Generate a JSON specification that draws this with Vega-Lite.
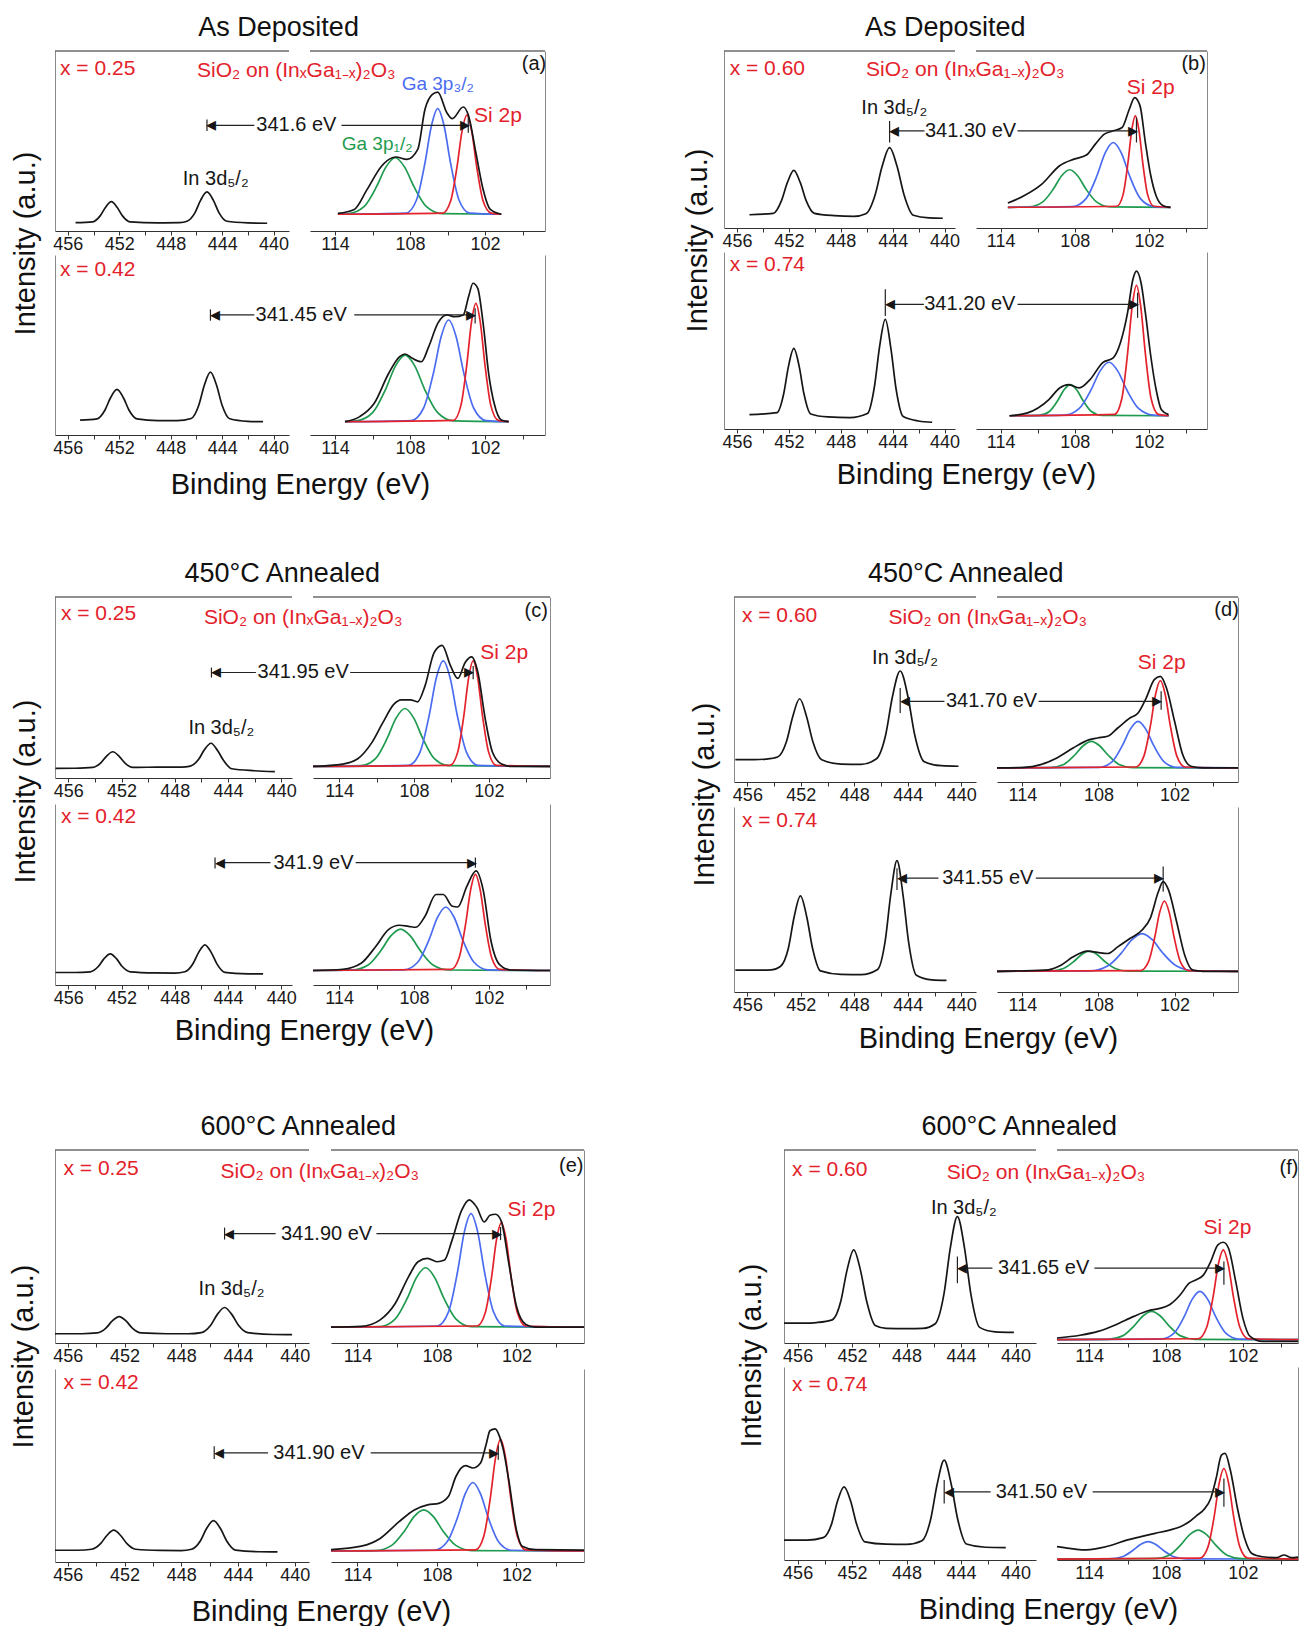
{
"$schema":"https://vega.github.io/schema/vega-lite/v6.json",
"padding":{"left":9,"top":14,"right":0,"bottom":0},
"spacing":60,
"vconcat":[
{"spacing":61,"vconcat":[
{"hconcat":[
{"title":"As Deposited","columns":2,"spacing":{"row":24,"column":21},"bounds":"flush","concat":[
{"width":234,"height":180,"data":{"name":"a0i"},"encoding":{"x":{"field":"e","type":"quantitative","scale":{"domain":[457,438.8],"nice":false,"zero":false},"axis":{"title":null}},"y":{"field":"v","type":"quantitative","scale":{"domain":[0,1],"nice":false},"axis":{"title":"Intensity (a.u.)","titleX":-30,"titleY":192,"titleBaseline":"middle"}}},"layer":[{"mark":{"type":"line","style":"ln","color":"#161616"},"transform":[{"filter":"!datum.t&&!datum.f"}]},{"mark":"rule","transform":[{"filter":"datum.f"}],"encoding":{"x2":{"field":"f"},"y2":{"field":"w"}}},{"mark":"text","transform":[{"filter":"datum.t"}],"encoding":{"text":{"field":"t"},"color":{"field":"k","type":"nominal"},"size":{"field":"k","type":"nominal","scale":{"type":"ordinal","domain":["b","g","k","r"],"range":[19,19,20,21]}}}}]},
{"width":235,"height":180,"data":{"name":"a0g"},"encoding":{"x":{"field":"e","type":"quantitative","scale":{"domain":[116,97.2],"nice":false,"zero":false},"axis":{"title":null,"values":[114,111,108,105,102,99]}},"y":{"field":"v","type":"quantitative","scale":{"domain":[0,1],"nice":false},"axis":{"orient":"right","title":null}}},"layer":[{"mark":{"type":"line","style":"ln"},"transform":[{"filter":"datum.c"}],"encoding":{"color":{"field":"c","type":"nominal"}}},{"mark":"rule","transform":[{"filter":"datum.f"}],"encoding":{"x2":{"field":"f"},"y2":{"field":"w"}}},{"mark":"text","transform":[{"filter":"datum.t"}],"encoding":{"text":{"field":"t"},"color":{"field":"k","type":"nominal"},"size":{"field":"k","type":"nominal","scale":{"type":"ordinal","domain":["b","g","k","r"],"range":[19,19,20,21]}}}}]},
{"width":234,"height":180,"data":{"name":"a1i"},"encoding":{"x":{"field":"e","type":"quantitative","scale":{"domain":[457,438.8],"nice":false,"zero":false},"axis":{"title":"Binding Energy (eV)","titleX":245,"titleY":49,"titleBaseline":"middle"}},"y":{"field":"v","type":"quantitative","scale":{"domain":[0,1],"nice":false},"axis":{"title":null}}},"layer":[{"mark":{"type":"line","style":"ln","color":"#161616"},"transform":[{"filter":"!datum.t&&!datum.f"}]},{"mark":"rule","transform":[{"filter":"datum.f"}],"encoding":{"x2":{"field":"f"},"y2":{"field":"w"}}},{"mark":"text","transform":[{"filter":"datum.t"}],"encoding":{"text":{"field":"t"},"color":{"field":"k","type":"nominal"},"size":{"field":"k","type":"nominal","scale":{"type":"ordinal","domain":["b","g","k","r"],"range":[19,19,20,21]}}}}]},
{"width":235,"height":180,"data":{"name":"a1g"},"encoding":{"x":{"field":"e","type":"quantitative","scale":{"domain":[116,97.2],"nice":false,"zero":false},"axis":{"title":null,"values":[114,111,108,105,102,99]}},"y":{"field":"v","type":"quantitative","scale":{"domain":[0,1],"nice":false},"axis":{"orient":"right","title":null}}},"layer":[{"mark":{"type":"line","style":"ln"},"transform":[{"filter":"datum.c"}],"encoding":{"color":{"field":"c","type":"nominal"}}},{"mark":"rule","transform":[{"filter":"datum.f"}],"encoding":{"x2":{"field":"f"},"y2":{"field":"w"}}},{"mark":"text","transform":[{"filter":"datum.t"}],"encoding":{"text":{"field":"t"},"color":{"field":"k","type":"nominal"},"size":{"field":"k","type":"nominal","scale":{"type":"ordinal","domain":["b","g","k","r"],"range":[19,19,20,21]}}}}]}
]},
{"title":"As Deposited","columns":2,"spacing":{"row":24,"column":21},"bounds":"flush","concat":[
{"width":231,"height":177,"data":{"name":"b0i"},"encoding":{"x":{"field":"e","type":"quantitative","scale":{"domain":[457,439.2],"nice":false,"zero":false},"axis":{"title":null}},"y":{"field":"v","type":"quantitative","scale":{"domain":[0,1],"nice":false},"axis":{"title":"Intensity (a.u.)","titleX":-27,"titleY":189,"titleBaseline":"middle"}}},"layer":[{"mark":{"type":"line","style":"ln","color":"#161616"},"transform":[{"filter":"!datum.t&&!datum.f"}]},{"mark":"rule","transform":[{"filter":"datum.f"}],"encoding":{"x2":{"field":"f"},"y2":{"field":"w"}}},{"mark":"text","transform":[{"filter":"datum.t"}],"encoding":{"text":{"field":"t"},"color":{"field":"k","type":"nominal"},"size":{"field":"k","type":"nominal","scale":{"type":"ordinal","domain":["b","g","k","r"],"range":[19,19,20,21]}}}}]},
{"width":231,"height":177,"data":{"name":"b0g"},"encoding":{"x":{"field":"e","type":"quantitative","scale":{"domain":[116,97.3],"nice":false,"zero":false},"axis":{"title":null,"values":[114,111,108,105,102,99]}},"y":{"field":"v","type":"quantitative","scale":{"domain":[0,1],"nice":false},"axis":{"orient":"right","title":null}}},"layer":[{"mark":{"type":"line","style":"ln"},"transform":[{"filter":"datum.c"}],"encoding":{"color":{"field":"c","type":"nominal"}}},{"mark":"rule","transform":[{"filter":"datum.f"}],"encoding":{"x2":{"field":"f"},"y2":{"field":"w"}}},{"mark":"text","transform":[{"filter":"datum.t"}],"encoding":{"text":{"field":"t"},"color":{"field":"k","type":"nominal"},"size":{"field":"k","type":"nominal","scale":{"type":"ordinal","domain":["b","g","k","r"],"range":[19,19,20,21]}}}}]},
{"width":231,"height":177,"data":{"name":"b1i"},"encoding":{"x":{"field":"e","type":"quantitative","scale":{"domain":[457,439.2],"nice":false,"zero":false},"axis":{"title":"Binding Energy (eV)","titleX":242,"titleY":45,"titleBaseline":"middle"}},"y":{"field":"v","type":"quantitative","scale":{"domain":[0,1],"nice":false},"axis":{"title":null}}},"layer":[{"mark":{"type":"line","style":"ln","color":"#161616"},"transform":[{"filter":"!datum.t&&!datum.f"}]},{"mark":"rule","transform":[{"filter":"datum.f"}],"encoding":{"x2":{"field":"f"},"y2":{"field":"w"}}},{"mark":"text","transform":[{"filter":"datum.t"}],"encoding":{"text":{"field":"t"},"color":{"field":"k","type":"nominal"},"size":{"field":"k","type":"nominal","scale":{"type":"ordinal","domain":["b","g","k","r"],"range":[19,19,20,21]}}}}]},
{"width":231,"height":177,"data":{"name":"b1g"},"encoding":{"x":{"field":"e","type":"quantitative","scale":{"domain":[116,97.3],"nice":false,"zero":false},"axis":{"title":null,"values":[114,111,108,105,102,99]}},"y":{"field":"v","type":"quantitative","scale":{"domain":[0,1],"nice":false},"axis":{"orient":"right","title":null}}},"layer":[{"mark":{"type":"line","style":"ln"},"transform":[{"filter":"datum.c"}],"encoding":{"color":{"field":"c","type":"nominal"}}},{"mark":"rule","transform":[{"filter":"datum.f"}],"encoding":{"x2":{"field":"f"},"y2":{"field":"w"}}},{"mark":"text","transform":[{"filter":"datum.t"}],"encoding":{"text":{"field":"t"},"color":{"field":"k","type":"nominal"},"size":{"field":"k","type":"nominal","scale":{"type":"ordinal","domain":["b","g","k","r"],"range":[19,19,20,21]}}}}]}
]}
],"spacing":136},
{"hconcat":[
{"title":"450°C Annealed","columns":2,"spacing":{"row":26,"column":21},"bounds":"flush","concat":[
{"width":237,"height":181,"data":{"name":"c0i"},"encoding":{"x":{"field":"e","type":"quantitative","scale":{"domain":[457,439.2],"nice":false,"zero":false},"axis":{"title":null}},"y":{"field":"v","type":"quantitative","scale":{"domain":[0,1],"nice":false},"axis":{"title":"Intensity (a.u.)","titleX":-30,"titleY":194,"titleBaseline":"middle"}}},"layer":[{"mark":{"type":"line","style":"ln","color":"#161616"},"transform":[{"filter":"!datum.t&&!datum.f"}]},{"mark":"rule","transform":[{"filter":"datum.f"}],"encoding":{"x2":{"field":"f"},"y2":{"field":"w"}}},{"mark":"text","transform":[{"filter":"datum.t"}],"encoding":{"text":{"field":"t"},"color":{"field":"k","type":"nominal"},"size":{"field":"k","type":"nominal","scale":{"type":"ordinal","domain":["b","g","k","r"],"range":[19,19,20,21]}}}}]},
{"width":237,"height":181,"data":{"name":"c0g"},"encoding":{"x":{"field":"e","type":"quantitative","scale":{"domain":[116.1,97.1],"nice":false,"zero":false},"axis":{"title":null,"values":[114,111,108,105,102,99]}},"y":{"field":"v","type":"quantitative","scale":{"domain":[0,1],"nice":false},"axis":{"orient":"right","title":null}}},"layer":[{"mark":{"type":"line","style":"ln"},"transform":[{"filter":"datum.c"}],"encoding":{"color":{"field":"c","type":"nominal"}}},{"mark":"rule","transform":[{"filter":"datum.f"}],"encoding":{"x2":{"field":"f"},"y2":{"field":"w"}}},{"mark":"text","transform":[{"filter":"datum.t"}],"encoding":{"text":{"field":"t"},"color":{"field":"k","type":"nominal"},"size":{"field":"k","type":"nominal","scale":{"type":"ordinal","domain":["b","g","k","r"],"range":[19,19,20,21]}}}}]},
{"width":237,"height":181,"data":{"name":"c1i"},"encoding":{"x":{"field":"e","type":"quantitative","scale":{"domain":[457,439.2],"nice":false,"zero":false},"axis":{"title":"Binding Energy (eV)","titleX":249,"titleY":45,"titleBaseline":"middle"}},"y":{"field":"v","type":"quantitative","scale":{"domain":[0,1],"nice":false},"axis":{"title":null}}},"layer":[{"mark":{"type":"line","style":"ln","color":"#161616"},"transform":[{"filter":"!datum.t&&!datum.f"}]},{"mark":"rule","transform":[{"filter":"datum.f"}],"encoding":{"x2":{"field":"f"},"y2":{"field":"w"}}},{"mark":"text","transform":[{"filter":"datum.t"}],"encoding":{"text":{"field":"t"},"color":{"field":"k","type":"nominal"},"size":{"field":"k","type":"nominal","scale":{"type":"ordinal","domain":["b","g","k","r"],"range":[19,19,20,21]}}}}]},
{"width":237,"height":181,"data":{"name":"c1g"},"encoding":{"x":{"field":"e","type":"quantitative","scale":{"domain":[116.1,97.1],"nice":false,"zero":false},"axis":{"title":null,"values":[114,111,108,105,102,99]}},"y":{"field":"v","type":"quantitative","scale":{"domain":[0,1],"nice":false},"axis":{"orient":"right","title":null}}},"layer":[{"mark":{"type":"line","style":"ln"},"transform":[{"filter":"datum.c"}],"encoding":{"color":{"field":"c","type":"nominal"}}},{"mark":"rule","transform":[{"filter":"datum.f"}],"encoding":{"x2":{"field":"f"},"y2":{"field":"w"}}},{"mark":"text","transform":[{"filter":"datum.t"}],"encoding":{"text":{"field":"t"},"color":{"field":"k","type":"nominal"},"size":{"field":"k","type":"nominal","scale":{"type":"ordinal","domain":["b","g","k","r"],"range":[19,19,20,21]}}}}]}
]},
{"title":"450°C Annealed","columns":2,"spacing":{"row":25,"column":21},"bounds":"flush","concat":[
{"width":242,"height":185,"data":{"name":"d0i"},"encoding":{"x":{"field":"e","type":"quantitative","scale":{"domain":[457,438.9],"nice":false,"zero":false},"axis":{"title":null}},"y":{"field":"v","type":"quantitative","scale":{"domain":[0,1],"nice":false},"axis":{"title":"Intensity (a.u.)","titleX":-30,"titleY":197,"titleBaseline":"middle"}}},"layer":[{"mark":{"type":"line","style":"ln","color":"#161616"},"transform":[{"filter":"!datum.t&&!datum.f"}]},{"mark":"rule","transform":[{"filter":"datum.f"}],"encoding":{"x2":{"field":"f"},"y2":{"field":"w"}}},{"mark":"text","transform":[{"filter":"datum.t"}],"encoding":{"text":{"field":"t"},"color":{"field":"k","type":"nominal"},"size":{"field":"k","type":"nominal","scale":{"type":"ordinal","domain":["b","g","k","r"],"range":[19,19,20,21]}}}}]},
{"width":241,"height":185,"data":{"name":"d0g"},"encoding":{"x":{"field":"e","type":"quantitative","scale":{"domain":[116,97],"nice":false,"zero":false},"axis":{"title":null,"values":[114,111,108,105,102,99]}},"y":{"field":"v","type":"quantitative","scale":{"domain":[0,1],"nice":false},"axis":{"orient":"right","title":null}}},"layer":[{"mark":{"type":"line","style":"ln"},"transform":[{"filter":"datum.c"}],"encoding":{"color":{"field":"c","type":"nominal"}}},{"mark":"rule","transform":[{"filter":"datum.f"}],"encoding":{"x2":{"field":"f"},"y2":{"field":"w"}}},{"mark":"text","transform":[{"filter":"datum.t"}],"encoding":{"text":{"field":"t"},"color":{"field":"k","type":"nominal"},"size":{"field":"k","type":"nominal","scale":{"type":"ordinal","domain":["b","g","k","r"],"range":[19,19,20,21]}}}}]},
{"width":242,"height":185,"data":{"name":"d1i"},"encoding":{"x":{"field":"e","type":"quantitative","scale":{"domain":[457,438.9],"nice":false,"zero":false},"axis":{"title":"Binding Energy (eV)","titleX":254,"titleY":46,"titleBaseline":"middle"}},"y":{"field":"v","type":"quantitative","scale":{"domain":[0,1],"nice":false},"axis":{"title":null}}},"layer":[{"mark":{"type":"line","style":"ln","color":"#161616"},"transform":[{"filter":"!datum.t&&!datum.f"}]},{"mark":"rule","transform":[{"filter":"datum.f"}],"encoding":{"x2":{"field":"f"},"y2":{"field":"w"}}},{"mark":"text","transform":[{"filter":"datum.t"}],"encoding":{"text":{"field":"t"},"color":{"field":"k","type":"nominal"},"size":{"field":"k","type":"nominal","scale":{"type":"ordinal","domain":["b","g","k","r"],"range":[19,19,20,21]}}}}]},
{"width":241,"height":185,"data":{"name":"d1g"},"encoding":{"x":{"field":"e","type":"quantitative","scale":{"domain":[116,97],"nice":false,"zero":false},"axis":{"title":null,"values":[114,111,108,105,102,99]}},"y":{"field":"v","type":"quantitative","scale":{"domain":[0,1],"nice":false},"axis":{"orient":"right","title":null}}},"layer":[{"mark":{"type":"line","style":"ln"},"transform":[{"filter":"datum.c"}],"encoding":{"color":{"field":"c","type":"nominal"}}},{"mark":"rule","transform":[{"filter":"datum.f"}],"encoding":{"x2":{"field":"f"},"y2":{"field":"w"}}},{"mark":"text","transform":[{"filter":"datum.t"}],"encoding":{"text":{"field":"t"},"color":{"field":"k","type":"nominal"},"size":{"field":"k","type":"nominal","scale":{"type":"ordinal","domain":["b","g","k","r"],"range":[19,19,20,21]}}}}]}
]}
],"spacing":136}
]},
{"hconcat":[
{"title":"600°C Annealed","columns":2,"spacing":{"row":26,"column":22},"bounds":"flush","concat":[
{"width":254,"height":193,"data":{"name":"e0i"},"encoding":{"x":{"field":"e","type":"quantitative","scale":{"domain":[456.9,439],"nice":false,"zero":false},"axis":{"title":null}},"y":{"field":"v","type":"quantitative","scale":{"domain":[0,1],"nice":false},"axis":{"title":"Intensity (a.u.)","titleX":-32,"titleY":206,"titleBaseline":"middle"}}},"layer":[{"mark":{"type":"line","style":"ln","color":"#161616"},"transform":[{"filter":"!datum.t&&!datum.f"}]},{"mark":"rule","transform":[{"filter":"datum.f"}],"encoding":{"x2":{"field":"f"},"y2":{"field":"w"}}},{"mark":"text","transform":[{"filter":"datum.t"}],"encoding":{"text":{"field":"t"},"color":{"field":"k","type":"nominal"},"size":{"field":"k","type":"nominal","scale":{"type":"ordinal","domain":["b","g","k","r"],"range":[19,19,20,21]}}}}]},
{"width":253,"height":193,"data":{"name":"e0g"},"encoding":{"x":{"field":"e","type":"quantitative","scale":{"domain":[116,96.9],"nice":false,"zero":false},"axis":{"title":null,"values":[114,111,108,105,102,99]}},"y":{"field":"v","type":"quantitative","scale":{"domain":[0,1],"nice":false},"axis":{"orient":"right","title":null}}},"layer":[{"mark":{"type":"line","style":"ln"},"transform":[{"filter":"datum.c"}],"encoding":{"color":{"field":"c","type":"nominal"}}},{"mark":"rule","transform":[{"filter":"datum.f"}],"encoding":{"x2":{"field":"f"},"y2":{"field":"w"}}},{"mark":"text","transform":[{"filter":"datum.t"}],"encoding":{"text":{"field":"t"},"color":{"field":"k","type":"nominal"},"size":{"field":"k","type":"nominal","scale":{"type":"ordinal","domain":["b","g","k","r"],"range":[19,19,20,21]}}}}]},
{"width":254,"height":193,"data":{"name":"e1i"},"encoding":{"x":{"field":"e","type":"quantitative","scale":{"domain":[456.9,439],"nice":false,"zero":false},"axis":{"title":"Binding Energy (eV)","titleX":266,"titleY":49,"titleBaseline":"middle"}},"y":{"field":"v","type":"quantitative","scale":{"domain":[0,1],"nice":false},"axis":{"title":null}}},"layer":[{"mark":{"type":"line","style":"ln","color":"#161616"},"transform":[{"filter":"!datum.t&&!datum.f"}]},{"mark":"rule","transform":[{"filter":"datum.f"}],"encoding":{"x2":{"field":"f"},"y2":{"field":"w"}}},{"mark":"text","transform":[{"filter":"datum.t"}],"encoding":{"text":{"field":"t"},"color":{"field":"k","type":"nominal"},"size":{"field":"k","type":"nominal","scale":{"type":"ordinal","domain":["b","g","k","r"],"range":[19,19,20,21]}}}}]},
{"width":253,"height":193,"data":{"name":"e1g"},"encoding":{"x":{"field":"e","type":"quantitative","scale":{"domain":[116,96.9],"nice":false,"zero":false},"axis":{"title":null,"values":[114,111,108,105,102,99]}},"y":{"field":"v","type":"quantitative","scale":{"domain":[0,1],"nice":false},"axis":{"orient":"right","title":null}}},"layer":[{"mark":{"type":"line","style":"ln"},"transform":[{"filter":"datum.c"}],"encoding":{"color":{"field":"c","type":"nominal"}}},{"mark":"rule","transform":[{"filter":"datum.f"}],"encoding":{"x2":{"field":"f"},"y2":{"field":"w"}}},{"mark":"text","transform":[{"filter":"datum.t"}],"encoding":{"text":{"field":"t"},"color":{"field":"k","type":"nominal"},"size":{"field":"k","type":"nominal","scale":{"type":"ordinal","domain":["b","g","k","r"],"range":[19,19,20,21]}}}}]}
]},
{"title":"600°C Annealed","columns":2,"spacing":{"row":24,"column":21},"bounds":"flush","concat":[
{"width":252,"height":193,"data":{"name":"f0i"},"encoding":{"x":{"field":"e","type":"quantitative","scale":{"domain":[457,438.5],"nice":false,"zero":false},"axis":{"title":null}},"y":{"field":"v","type":"quantitative","scale":{"domain":[0,1],"nice":false},"axis":{"title":"Intensity (a.u.)","titleX":-33,"titleY":205,"titleBaseline":"middle"}}},"layer":[{"mark":{"type":"line","style":"ln","color":"#161616"},"transform":[{"filter":"!datum.t&&!datum.f"}]},{"mark":"rule","transform":[{"filter":"datum.f"}],"encoding":{"x2":{"field":"f"},"y2":{"field":"w"}}},{"mark":"text","transform":[{"filter":"datum.t"}],"encoding":{"text":{"field":"t"},"color":{"field":"k","type":"nominal"},"size":{"field":"k","type":"nominal","scale":{"type":"ordinal","domain":["b","g","k","r"],"range":[19,19,20,21]}}}}]},
{"width":241,"height":193,"data":{"name":"f0g"},"encoding":{"x":{"field":"e","type":"quantitative","scale":{"domain":[116.5,97.7],"nice":false,"zero":false},"axis":{"title":null,"values":[114,111,108,105,102,99]}},"y":{"field":"v","type":"quantitative","scale":{"domain":[0,1],"nice":false},"axis":{"orient":"right","title":null}}},"layer":[{"mark":{"type":"line","style":"ln"},"transform":[{"filter":"datum.c"}],"encoding":{"color":{"field":"c","type":"nominal"}}},{"mark":"rule","transform":[{"filter":"datum.f"}],"encoding":{"x2":{"field":"f"},"y2":{"field":"w"}}},{"mark":"text","transform":[{"filter":"datum.t"}],"encoding":{"text":{"field":"t"},"color":{"field":"k","type":"nominal"},"size":{"field":"k","type":"nominal","scale":{"type":"ordinal","domain":["b","g","k","r"],"range":[19,19,20,21]}}}}]},
{"width":252,"height":193,"data":{"name":"f1i"},"encoding":{"x":{"field":"e","type":"quantitative","scale":{"domain":[457,438.5],"nice":false,"zero":false},"axis":{"title":"Binding Energy (eV)","titleX":264,"titleY":49,"titleBaseline":"middle"}},"y":{"field":"v","type":"quantitative","scale":{"domain":[0,1],"nice":false},"axis":{"title":null}}},"layer":[{"mark":{"type":"line","style":"ln","color":"#161616"},"transform":[{"filter":"!datum.t&&!datum.f"}]},{"mark":"rule","transform":[{"filter":"datum.f"}],"encoding":{"x2":{"field":"f"},"y2":{"field":"w"}}},{"mark":"text","transform":[{"filter":"datum.t"}],"encoding":{"text":{"field":"t"},"color":{"field":"k","type":"nominal"},"size":{"field":"k","type":"nominal","scale":{"type":"ordinal","domain":["b","g","k","r"],"range":[19,19,20,21]}}}}]},
{"width":241,"height":193,"data":{"name":"f1g"},"encoding":{"x":{"field":"e","type":"quantitative","scale":{"domain":[116.5,97.7],"nice":false,"zero":false},"axis":{"title":null,"values":[114,111,108,105,102,99]}},"y":{"field":"v","type":"quantitative","scale":{"domain":[0,1],"nice":false},"axis":{"orient":"right","title":null}}},"layer":[{"mark":{"type":"line","style":"ln"},"transform":[{"filter":"datum.c"}],"encoding":{"color":{"field":"c","type":"nominal"}}},{"mark":"rule","transform":[{"filter":"datum.f"}],"encoding":{"x2":{"field":"f"},"y2":{"field":"w"}}},{"mark":"text","transform":[{"filter":"datum.t"}],"encoding":{"text":{"field":"t"},"color":{"field":"k","type":"nominal"},"size":{"field":"k","type":"nominal","scale":{"type":"ordinal","domain":["b","g","k","r"],"range":[19,19,20,21]}}}}]}
]}
],"spacing":149}
],
"datasets":{
"a0i":[{"e":455.4,"v":0.046},{"e":454.07,"v":0.051},{"e":453.49,"v":0.084},{"e":453.08,"v":0.131},{"e":452.62,"v":0.163},{"e":452.16,"v":0.131},{"e":451.75,"v":0.084},{"e":451.17,"v":0.051},{"e":449,"v":0.045},{"e":447.3,"v":0.046},{"e":446.73,"v":0.054},{"e":446.11,"v":0.102},{"e":445.68,"v":0.17},{"e":445.18,"v":0.217},{"e":444.68,"v":0.17},{"e":444.25,"v":0.102},{"e":443.63,"v":0.054},{"e":442,"v":0.045},{"e":440.5,"v":0.043},
{"t":"x = 0.25","k":"r","e":453.68,"v":0.898},{"t":"SiO₂ on (InₓGa₁₋ₓ)₂O₃","k":"r","e":438.23,"v":0.889},{"t":"In 3d₅/₂","k":"k","e":444.5,"v":0.287},{"t":"341.6 eV","k":"k","e":438.23,"v":0.587},{"t":"◂","k":"k","e":444.83,"v":0.587},
{"e":445.18,"f":445.18,"v":0.62,"w":0.556},{"e":445.0,"f":441.5,"v":0.587,"w":0.587},{"e":457,"f":438.8,"v":1,"w":1}],
"a0g":[{"c":"g","e":113.77,"v":0.093},{"c":"g","e":112.93,"v":0.096},{"c":"g","e":111.68,"v":0.135},{"c":"g","e":110.68,"v":0.246},{"c":"g","e":109.93,"v":0.355},{"c":"g","e":109.18,"v":0.407},{"c":"g","e":108.43,"v":0.355},{"c":"g","e":107.68,"v":0.246},{"c":"g","e":106.68,"v":0.135},{"c":"g","e":105.43,"v":0.096},{"c":"g","e":100.7,"v":0.093},
{"c":"b","e":113.77,"v":0.093},{"c":"b","e":108.33,"v":0.099},{"c":"b","e":107.48,"v":0.172},{"c":"b","e":106.8,"v":0.379},{"c":"b","e":106.29,"v":0.583},{"c":"b","e":105.78,"v":0.68},{"c":"b","e":105.27,"v":0.583},{"c":"b","e":104.76,"v":0.379},{"c":"b","e":104.08,"v":0.172},{"c":"b","e":103.23,"v":0.099},{"c":"b","e":100.7,"v":0.093},
{"c":"r","e":113.77,"v":0.093},{"c":"r","e":105.4,"v":0.099},{"c":"r","e":104.75,"v":0.167},{"c":"r","e":104.23,"v":0.361},{"c":"r","e":103.84,"v":0.553},{"c":"r","e":103.45,"v":0.644},{"c":"r","e":103.06,"v":0.553},{"c":"r","e":102.67,"v":0.361},{"c":"r","e":102.15,"v":0.167},{"c":"r","e":101.5,"v":0.099},{"c":"r","e":100.7,"v":0.093},
{"c":"k","e":113.77,"v":0.098},{"c":"k","e":112.46,"v":0.12},{"c":"k","e":111.44,"v":0.23},{"c":"k","e":110.28,"v":0.36},{"c":"k","e":109.41,"v":0.407},{"c":"k","e":109.12,"v":0.411},{"c":"k","e":108.25,"v":0.398},{"c":"k","e":107.38,"v":0.454},{"c":"k","e":106.8,"v":0.676},{"c":"k","e":106.21,"v":0.759},{"c":"k","e":105.78,"v":0.772},{"c":"k","e":105.05,"v":0.657},{"c":"k","e":104.62,"v":0.624},{"c":"k","e":103.74,"v":0.689},{"c":"k","e":103.31,"v":0.639},{"c":"k","e":102.73,"v":0.435},{"c":"k","e":102.15,"v":0.231},{"c":"k","e":101.57,"v":0.12},{"c":"k","e":100.7,"v":0.093},
{"t":"Ga 3p₃/₂","k":"b","e":105.78,"v":0.815},{"t":"Ga 3p₁/₂","k":"g","e":110.63,"v":0.481},{"t":"Si 2p","k":"r","e":100.96,"v":0.639},{"t":"(a)","k":"k","e":98.08,"v":0.926},{"t":"▸","k":"k","e":103.64,"v":0.587},
{"e":113.48,"f":103.64,"v":0.587,"w":0.587},{"e":103.34,"f":103.34,"v":0.63,"w":0.546},{"e":116,"f":97.2,"v":1,"w":1}],
"a1i":[{"e":455.05,"v":0.083},{"e":453.73,"v":0.09},{"e":453.11,"v":0.139},{"e":452.68,"v":0.207},{"e":452.18,"v":0.254},{"e":451.68,"v":0.207},{"e":451.25,"v":0.139},{"e":450.63,"v":0.09},{"e":449,"v":0.08},{"e":447.5,"v":0.08},{"e":446.41,"v":0.092},{"e":445.81,"v":0.167},{"e":445.39,"v":0.275},{"e":444.91,"v":0.349},{"e":444.43,"v":0.275},{"e":444.01,"v":0.167},{"e":443.41,"v":0.09},{"e":442,"v":0.076},{"e":440.82,"v":0.074},
{"t":"x = 0.42","k":"r","e":453.68,"v":0.917},{"t":"341.45 eV","k":"k","e":437.85,"v":0.667},{"t":"◂","k":"k","e":444.56,"v":0.667},
{"e":444.91,"f":444.91,"v":0.698,"w":0.635},{"e":444.7,"f":441.5,"v":0.667,"w":0.667}],
"a1g":[{"c":"g","e":113.19,"v":0.074},{"c":"g","e":112.29,"v":0.078},{"c":"g","e":110.99,"v":0.124},{"c":"g","e":109.95,"v":0.254},{"c":"g","e":109.17,"v":0.383},{"c":"g","e":108.39,"v":0.444},{"c":"g","e":107.61,"v":0.383},{"c":"g","e":106.83,"v":0.254},{"c":"g","e":105.79,"v":0.124},{"c":"g","e":104.49,"v":0.078},{"c":"g","e":100.11,"v":0.074},
{"c":"b","e":113.19,"v":0.074},{"c":"b","e":107.91,"v":0.08},{"c":"b","e":106.91,"v":0.15},{"c":"b","e":106.11,"v":0.349},{"c":"b","e":105.51,"v":0.546},{"c":"b","e":104.91,"v":0.639},{"c":"b","e":104.31,"v":0.546},{"c":"b","e":103.71,"v":0.349},{"c":"b","e":102.91,"v":0.15},{"c":"b","e":101.91,"v":0.08},{"c":"b","e":100.11,"v":0.074},
{"c":"r","e":113.19,"v":0.074},{"c":"r","e":104.53,"v":0.081},{"c":"r","e":103.93,"v":0.163},{"c":"r","e":103.45,"v":0.394},{"c":"r","e":103.09,"v":0.623},{"c":"r","e":102.73,"v":0.731},{"c":"r","e":102.37,"v":0.623},{"c":"r","e":102.01,"v":0.394},{"c":"r","e":101.53,"v":0.163},{"c":"r","e":100.93,"v":0.081},{"c":"r","e":100.11,"v":0.074},
{"c":"k","e":113.19,"v":0.074},{"c":"k","e":112.02,"v":0.102},{"c":"k","e":110.86,"v":0.176},{"c":"k","e":109.7,"v":0.343},{"c":"k","e":108.83,"v":0.435},{"c":"k","e":108.39,"v":0.45},{"c":"k","e":107.81,"v":0.426},{"c":"k","e":107.09,"v":0.407},{"c":"k","e":106.5,"v":0.491},{"c":"k","e":105.78,"v":0.62},{"c":"k","e":105.05,"v":0.667},{"c":"k","e":104.41,"v":0.657},{"c":"k","e":103.74,"v":0.667},{"c":"k","e":103.31,"v":0.769},{"c":"k","e":102.96,"v":0.843},{"c":"k","e":102.58,"v":0.815},{"c":"k","e":102.15,"v":0.62},{"c":"k","e":101.71,"v":0.343},{"c":"k","e":101.27,"v":0.176},{"c":"k","e":100.69,"v":0.083},{"c":"k","e":100.11,"v":0.074},
{"t":"▸","k":"k","e":103.09,"v":0.667},
{"e":112.46,"f":103.09,"v":0.667,"w":0.667},{"e":102.79,"f":102.79,"v":0.704,"w":0.62}],
"b0i":[{"e":455.04,"v":0.075},{"e":453.2,"v":0.083},{"e":452.57,"v":0.155},{"e":452.12,"v":0.256},{"e":451.62,"v":0.326},{"e":451.12,"v":0.256},{"e":450.67,"v":0.155},{"e":450.04,"v":0.083},{"e":448.5,"v":0.07},{"e":447,"v":0.066},{"e":446.07,"v":0.081},{"e":445.34,"v":0.191},{"e":444.82,"v":0.347},{"e":444.24,"v":0.454},{"e":443.66,"v":0.347},{"e":443.14,"v":0.191},{"e":442.41,"v":0.072},{"e":441.2,"v":0.057},{"e":440.14,"v":0.055},
{"t":"x = 0.60","k":"r","e":453.66,"v":0.898},{"t":"SiO₂ on (InₓGa₁₋ₓ)₂O₃","k":"r","e":438.41,"v":0.893},{"t":"In 3d₅/₂","k":"k","e":443.88,"v":0.68},{"t":"341.30 eV","k":"k","e":438.0,"v":0.549},{"t":"◂","k":"k","e":443.9,"v":0.549},
{"e":444.24,"f":444.24,"v":0.605,"w":0.483},{"e":444.05,"f":441.55,"v":0.549,"w":0.549},{"e":457,"f":439.2,"v":1,"w":1}],
"b0g":[{"c":"g","e":113.42,"v":0.117},{"c":"g","e":111.72,"v":0.119},{"c":"g","e":110.62,"v":0.146},{"c":"g","e":109.74,"v":0.22},{"c":"g","e":109.08,"v":0.294},{"c":"g","e":108.42,"v":0.329},{"c":"g","e":107.76,"v":0.294},{"c":"g","e":107.1,"v":0.22},{"c":"g","e":106.22,"v":0.146},{"c":"g","e":105.12,"v":0.119},{"c":"g","e":100.26,"v":0.117},
{"c":"b","e":113.42,"v":0.117},{"c":"b","e":108.19,"v":0.121},{"c":"b","e":107.09,"v":0.166},{"c":"b","e":106.21,"v":0.295},{"c":"b","e":105.55,"v":0.423},{"c":"b","e":104.89,"v":0.483},{"c":"b","e":104.23,"v":0.423},{"c":"b","e":103.57,"v":0.295},{"c":"b","e":102.69,"v":0.166},{"c":"b","e":101.59,"v":0.121},{"c":"b","e":100.26,"v":0.117},
{"c":"r","e":113.42,"v":0.117},{"c":"r","e":104.6,"v":0.123},{"c":"r","e":104.1,"v":0.187},{"c":"r","e":103.7,"v":0.368},{"c":"r","e":103.4,"v":0.548},{"c":"r","e":103.1,"v":0.633},{"c":"r","e":102.8,"v":0.548},{"c":"r","e":102.5,"v":0.368},{"c":"r","e":102.1,"v":0.187},{"c":"r","e":101.6,"v":0.123},{"c":"r","e":100.26,"v":0.117},
{"c":"k","e":113.42,"v":0.141},{"c":"k","e":112.12,"v":0.182},{"c":"k","e":110.67,"v":0.248},{"c":"k","e":109.23,"v":0.352},{"c":"k","e":108.07,"v":0.389},{"c":"k","e":107.06,"v":0.412},{"c":"k","e":106.34,"v":0.474},{"c":"k","e":105.61,"v":0.53},{"c":"k","e":104.89,"v":0.549},{"c":"k","e":104.17,"v":0.568},{"c":"k","e":103.59,"v":0.671},{"c":"k","e":103.16,"v":0.737},{"c":"k","e":102.72,"v":0.69},{"c":"k","e":102.29,"v":0.483},{"c":"k","e":101.85,"v":0.295},{"c":"k","e":101.42,"v":0.182},{"c":"k","e":100.84,"v":0.126},{"c":"k","e":100.26,"v":0.117},
{"t":"Si 2p","k":"r","e":101.85,"v":0.793},{"t":"(b)","k":"k","e":98.38,"v":0.925},{"t":"▸","k":"k","e":103.31,"v":0.549},
{"e":112.64,"f":103.31,"v":0.549,"w":0.549},{"e":103.01,"f":103.01,"v":0.624,"w":0.483},{"e":116,"f":97.3,"v":1,"w":1}],
"b1i":[{"e":455.04,"v":0.081},{"e":452.92,"v":0.092},{"e":452.4,"v":0.199},{"e":452.04,"v":0.351},{"e":451.62,"v":0.455},{"e":451.2,"v":0.351},{"e":450.84,"v":0.199},{"e":450.32,"v":0.085},{"e":449,"v":0.068},{"e":447.3,"v":0.064},{"e":445.95,"v":0.087},{"e":445.4,"v":0.243},{"e":445.01,"v":0.466},{"e":444.57,"v":0.619},{"e":444.13,"v":0.45},{"e":443.74,"v":0.226},{"e":443.19,"v":0.07},{"e":442,"v":0.045},{"e":440.96,"v":0.038},
{"t":"x = 0.74","k":"r","e":453.66,"v":0.925},{"t":"341.20 eV","k":"k","e":438.06,"v":0.704},{"t":"◂","k":"k","e":444.22,"v":0.704},
{"e":444.57,"f":444.57,"v":0.789,"w":0.638},{"e":444.4,"f":441.6,"v":0.704,"w":0.704}],
"b1g":[{"c":"g","e":113.28,"v":0.075},{"c":"g","e":110.91,"v":0.077},{"c":"g","e":110.06,"v":0.099},{"c":"g","e":109.38,"v":0.161},{"c":"g","e":108.87,"v":0.222},{"c":"g","e":108.36,"v":0.251},{"c":"g","e":107.85,"v":0.222},{"c":"g","e":107.34,"v":0.161},{"c":"g","e":106.66,"v":0.099},{"c":"g","e":105.81,"v":0.077},{"c":"g","e":100.41,"v":0.075},
{"c":"b","e":113.28,"v":0.075},{"c":"b","e":108.84,"v":0.078},{"c":"b","e":107.64,"v":0.116},{"c":"b","e":106.68,"v":0.222},{"c":"b","e":105.96,"v":0.327},{"c":"b","e":105.24,"v":0.377},{"c":"b","e":104.52,"v":0.327},{"c":"b","e":103.8,"v":0.222},{"c":"b","e":102.84,"v":0.116},{"c":"b","e":101.64,"v":0.078},{"c":"b","e":100.41,"v":0.075},
{"c":"r","e":113.28,"v":0.075},{"c":"r","e":104.78,"v":0.083},{"c":"r","e":104.19,"v":0.174},{"c":"r","e":103.72,"v":0.433},{"c":"r","e":103.36,"v":0.69},{"c":"r","e":103.01,"v":0.811},{"c":"r","e":102.66,"v":0.69},{"c":"r","e":102.3,"v":0.433},{"c":"r","e":101.83,"v":0.174},{"c":"r","e":101.24,"v":0.083},{"c":"r","e":100.41,"v":0.075},
{"c":"k","e":113.28,"v":0.075},{"c":"k","e":111.83,"v":0.091},{"c":"k","e":110.1,"v":0.166},{"c":"k","e":109.23,"v":0.232},{"c":"k","e":108.51,"v":0.251},{"c":"k","e":107.64,"v":0.232},{"c":"k","e":106.77,"v":0.279},{"c":"k","e":105.76,"v":0.374},{"c":"k","e":104.89,"v":0.402},{"c":"k","e":104.31,"v":0.487},{"c":"k","e":103.73,"v":0.657},{"c":"k","e":103.3,"v":0.845},{"c":"k","e":103.01,"v":0.892},{"c":"k","e":102.64,"v":0.826},{"c":"k","e":102.29,"v":0.657},{"c":"k","e":101.85,"v":0.411},{"c":"k","e":101.42,"v":0.223},{"c":"k","e":100.99,"v":0.109},{"c":"k","e":100.41,"v":0.081},
{"t":"▸","k":"k","e":103.22,"v":0.704},
{"e":112.64,"f":103.22,"v":0.704,"w":0.704},{"e":102.92,"f":102.92,"v":0.77,"w":0.628}],
"c0i":[{"e":456.96,"v":0.053},{"e":455.5,"v":0.054},{"e":454.16,"v":0.059},{"e":453.56,"v":0.084},{"e":453.14,"v":0.12},{"e":452.66,"v":0.145},{"e":452.18,"v":0.12},{"e":451.76,"v":0.084},{"e":451.16,"v":0.059},{"e":449,"v":0.06},{"e":447.5,"v":0.06},{"e":446.83,"v":0.066},{"e":446.21,"v":0.103},{"e":445.78,"v":0.156},{"e":445.28,"v":0.192},{"e":444.78,"v":0.15},{"e":444.35,"v":0.098},{"e":443.73,"v":0.051},{"e":442,"v":0.04},{"e":440.49,"v":0.035},
{"t":"x = 0.25","k":"r","e":453.73,"v":0.904},{"t":"SiO₂ on (InₓGa₁₋ₓ)₂O₃","k":"r","e":438.36,"v":0.886},{"t":"In 3d₅/₂","k":"k","e":444.51,"v":0.274},{"t":"341.95 eV","k":"k","e":438.36,"v":0.583},{"t":"◂","k":"k","e":444.9,"v":0.583},
{"e":445.25,"f":445.25,"v":0.61,"w":0.555},{"e":445.05,"f":441.91,"v":0.583,"w":0.583},{"e":457,"f":439.2,"v":1,"w":1}],
"c0g":[{"c":"g","e":116.1,"v":0.064},{"c":"g","e":112.27,"v":0.068},{"c":"g","e":111.09,"v":0.107},{"c":"g","e":110.15,"v":0.22},{"c":"g","e":109.44,"v":0.331},{"c":"g","e":108.73,"v":0.384},{"c":"g","e":108.02,"v":0.331},{"c":"g","e":107.31,"v":0.22},{"c":"g","e":106.37,"v":0.107},{"c":"g","e":105.19,"v":0.068},{"c":"g","e":97.1,"v":0.064},
{"c":"b","e":116.1,"v":0.064},{"c":"b","e":108.45,"v":0.07},{"c":"b","e":107.52,"v":0.143},{"c":"b","e":106.78,"v":0.348},{"c":"b","e":106.22,"v":0.551},{"c":"b","e":105.66,"v":0.647},{"c":"b","e":105.1,"v":0.551},{"c":"b","e":104.54,"v":0.348},{"c":"b","e":103.8,"v":0.143},{"c":"b","e":102.87,"v":0.07},{"c":"b","e":97.1,"v":0.064},
{"c":"r","e":116.1,"v":0.064},{"c":"r","e":105.12,"v":0.07},{"c":"r","e":104.5,"v":0.143},{"c":"r","e":104.0,"v":0.348},{"c":"r","e":103.63,"v":0.551},{"c":"r","e":103.26,"v":0.647},{"c":"r","e":102.89,"v":0.551},{"c":"r","e":102.52,"v":0.348},{"c":"r","e":102.02,"v":0.143},{"c":"r","e":101.4,"v":0.07},{"c":"r","e":97.1,"v":0.064},
{"c":"k","e":116.1,"v":0.064},{"c":"k","e":113.71,"v":0.077},{"c":"k","e":112.54,"v":0.105},{"c":"k","e":111.37,"v":0.197},{"c":"k","e":110.49,"v":0.307},{"c":"k","e":109.61,"v":0.408},{"c":"k","e":109.02,"v":0.432},{"c":"k","e":108.29,"v":0.432},{"c":"k","e":107.71,"v":0.421},{"c":"k","e":107.12,"v":0.509},{"c":"k","e":106.39,"v":0.693},{"c":"k","e":105.75,"v":0.733},{"c":"k","e":105.07,"v":0.619},{"c":"k","e":104.49,"v":0.55},{"c":"k","e":103.9,"v":0.638},{"c":"k","e":103.38,"v":0.669},{"c":"k","e":102.88,"v":0.583},{"c":"k","e":102.29,"v":0.325},{"c":"k","e":101.71,"v":0.142},{"c":"k","e":100.98,"v":0.077},{"c":"k","e":100.25,"v":0.064},{"c":"k","e":97.1,"v":0.064},
{"t":"Si 2p","k":"r","e":100.77,"v":0.689},{"t":"(c)","k":"k","e":98.2,"v":0.923},{"t":"▸","k":"k","e":103.56,"v":0.583},
{"e":113.12,"f":103.56,"v":0.583,"w":0.583},{"e":103.26,"f":103.26,"v":0.619,"w":0.546},{"e":116.1,"f":97.1,"v":1,"w":1}],
"c1i":[{"e":456.96,"v":0.069},{"e":455.5,"v":0.069},{"e":454.35,"v":0.073},{"e":453.75,"v":0.102},{"e":453.33,"v":0.144},{"e":452.85,"v":0.172},{"e":452.37,"v":0.144},{"e":451.95,"v":0.102},{"e":451.35,"v":0.073},{"e":449.5,"v":0.067},{"e":448,"v":0.066},{"e":447.24,"v":0.073},{"e":446.64,"v":0.117},{"e":446.22,"v":0.179},{"e":445.74,"v":0.222},{"e":445.26,"v":0.179},{"e":444.84,"v":0.117},{"e":444.24,"v":0.07},{"e":442.5,"v":0.062},{"e":441.37,"v":0.061},
{"t":"x = 0.42","k":"r","e":453.73,"v":0.926},{"t":"341.9 eV","k":"k","e":437.59,"v":0.676},{"t":"◂","k":"k","e":444.63,"v":0.676},
{"e":444.98,"f":444.98,"v":0.704,"w":0.643},{"e":444.8,"f":440.82,"v":0.676,"w":0.676}],
"c1g":[{"c":"g","e":116.1,"v":0.08},{"c":"g","e":112.98,"v":0.083},{"c":"g","e":111.68,"v":0.111},{"c":"g","e":110.64,"v":0.192},{"c":"g","e":109.86,"v":0.271},{"c":"g","e":109.08,"v":0.309},{"c":"g","e":108.3,"v":0.271},{"c":"g","e":107.52,"v":0.192},{"c":"g","e":106.48,"v":0.111},{"c":"g","e":105.18,"v":0.083},{"c":"g","e":97.1,"v":0.08},
{"c":"b","e":116.1,"v":0.08},{"c":"b","e":108.81,"v":0.084},{"c":"b","e":107.69,"v":0.127},{"c":"b","e":106.79,"v":0.251},{"c":"b","e":106.12,"v":0.373},{"c":"b","e":105.45,"v":0.431},{"c":"b","e":104.78,"v":0.373},{"c":"b","e":104.11,"v":0.251},{"c":"b","e":103.21,"v":0.127},{"c":"b","e":102.09,"v":0.084},{"c":"b","e":97.1,"v":0.08},
{"c":"r","e":116.1,"v":0.08},{"c":"r","e":105.03,"v":0.086},{"c":"r","e":104.38,"v":0.152},{"c":"r","e":103.86,"v":0.339},{"c":"r","e":103.47,"v":0.523},{"c":"r","e":103.08,"v":0.611},{"c":"r","e":102.69,"v":0.523},{"c":"r","e":102.3,"v":0.339},{"c":"r","e":101.78,"v":0.152},{"c":"r","e":101.13,"v":0.086},{"c":"r","e":97.1,"v":0.08},
{"c":"k","e":116.1,"v":0.08},{"c":"k","e":113.71,"v":0.087},{"c":"k","e":112.24,"v":0.12},{"c":"k","e":111.07,"v":0.213},{"c":"k","e":110.05,"v":0.306},{"c":"k","e":109.17,"v":0.33},{"c":"k","e":108.44,"v":0.324},{"c":"k","e":107.85,"v":0.319},{"c":"k","e":107.12,"v":0.38},{"c":"k","e":106.24,"v":0.5},{"c":"k","e":105.66,"v":0.5},{"c":"k","e":104.93,"v":0.435},{"c":"k","e":104.49,"v":0.431},{"c":"k","e":103.76,"v":0.546},{"c":"k","e":103.03,"v":0.63},{"c":"k","e":102.44,"v":0.519},{"c":"k","e":101.85,"v":0.25},{"c":"k","e":101.12,"v":0.111},{"c":"k","e":100.25,"v":0.083},{"c":"k","e":97.1,"v":0.08},
{"t":"▸","k":"k","e":103.38,"v":0.676},
{"e":112.68,"f":103.38,"v":0.676,"w":0.676},{"e":103.08,"f":103.08,"v":0.704,"w":0.648}],
"d0i":[{"e":456.9,"v":0.121},{"e":455.5,"v":0.121},{"e":454.6,"v":0.124},{"e":453.74,"v":0.135},{"e":453.08,"v":0.217},{"e":452.62,"v":0.35},{"e":452.09,"v":0.45},{"e":451.56,"v":0.35},{"e":451.1,"v":0.217},{"e":450.44,"v":0.12},{"e":449,"v":0.097},{"e":447.5,"v":0.095},{"e":446.37,"v":0.124},{"e":445.65,"v":0.257},{"e":445.15,"v":0.461},{"e":444.57,"v":0.6},{"e":443.99,"v":0.461},{"e":443.49,"v":0.257},{"e":442.77,"v":0.11},{"e":441.5,"v":0.088},{"e":440.21,"v":0.085},
{"t":"x = 0.60","k":"r","e":453.59,"v":0.899},{"t":"SiO₂ on (InₓGa₁₋ₓ)₂O₃","k":"r","e":438.02,"v":0.886},{"t":"In 3d₅/₂","k":"k","e":444.21,"v":0.67},{"t":"341.70 eV","k":"k","e":437.74,"v":0.436},{"t":"◂","k":"k","e":444.2,"v":0.436},
{"e":444.57,"f":444.57,"v":0.508,"w":0.373},{"e":444.4,"f":441.26,"v":0.436,"w":0.436},{"e":457,"f":438.9,"v":1,"w":1}],
"d0g":[{"c":"g","e":116,"v":0.076},{"c":"g","e":111.83,"v":0.078},{"c":"g","e":110.74,"v":0.095},{"c":"g","e":109.87,"v":0.146},{"c":"g","e":109.21,"v":0.196},{"c":"g","e":108.56,"v":0.22},{"c":"g","e":107.91,"v":0.196},{"c":"g","e":107.25,"v":0.146},{"c":"g","e":106.38,"v":0.095},{"c":"g","e":105.29,"v":0.078},{"c":"g","e":97,"v":0.076},
{"c":"b","e":116,"v":0.076},{"c":"b","e":107.94,"v":0.079},{"c":"b","e":106.92,"v":0.11},{"c":"b","e":106.1,"v":0.199},{"c":"b","e":105.49,"v":0.286},{"c":"b","e":104.88,"v":0.328},{"c":"b","e":104.27,"v":0.286},{"c":"b","e":103.66,"v":0.199},{"c":"b","e":102.84,"v":0.11},{"c":"b","e":101.82,"v":0.079},{"c":"b","e":97,"v":0.076},
{"c":"r","e":116,"v":0.076},{"c":"r","e":105.07,"v":0.081},{"c":"r","e":104.42,"v":0.14},{"c":"r","e":103.9,"v":0.306},{"c":"r","e":103.51,"v":0.47},{"c":"r","e":103.12,"v":0.548},{"c":"r","e":102.73,"v":0.47},{"c":"r","e":102.34,"v":0.306},{"c":"r","e":101.82,"v":0.14},{"c":"r","e":101.17,"v":0.081},{"c":"r","e":97,"v":0.076},
{"c":"k","e":116,"v":0.076},{"c":"k","e":113.84,"v":0.079},{"c":"k","e":112.56,"v":0.094},{"c":"k","e":111.28,"v":0.13},{"c":"k","e":110.0,"v":0.184},{"c":"k","e":108.72,"v":0.229},{"c":"k","e":108.08,"v":0.238},{"c":"k","e":107.28,"v":0.247},{"c":"k","e":106.48,"v":0.292},{"c":"k","e":105.52,"v":0.346},{"c":"k","e":104.88,"v":0.373},{"c":"k","e":104.24,"v":0.454},{"c":"k","e":103.6,"v":0.553},{"c":"k","e":103.12,"v":0.571},{"c":"k","e":102.64,"v":0.508},{"c":"k","e":102.0,"v":0.328},{"c":"k","e":101.36,"v":0.148},{"c":"k","e":100.72,"v":0.085},{"c":"k","e":99.76,"v":0.076},{"c":"k","e":97,"v":0.076},
{"t":"Si 2p","k":"r","e":103.02,"v":0.643},{"t":"(d)","k":"k","e":97.9,"v":0.932},{"t":"▸","k":"k","e":103.36,"v":0.436},
{"e":112.72,"f":103.36,"v":0.436,"w":0.436},{"e":103.06,"f":103.06,"v":0.49,"w":0.391},{"e":116,"f":97,"v":1,"w":1}],
"d1i":[{"e":456.9,"v":0.118},{"e":455.2,"v":0.118},{"e":454.2,"v":0.12},{"e":453.53,"v":0.138},{"e":452.93,"v":0.238},{"e":452.51,"v":0.403},{"e":452.03,"v":0.52},{"e":451.55,"v":0.403},{"e":451.13,"v":0.238},{"e":450.53,"v":0.114},{"e":449,"v":0.095},{"e":447.5,"v":0.094},{"e":446.26,"v":0.122},{"e":445.68,"v":0.282},{"e":445.27,"v":0.53},{"e":444.81,"v":0.71},{"e":444.35,"v":0.52},{"e":443.94,"v":0.27},{"e":443.36,"v":0.091},{"e":442.2,"v":0.066},{"e":441.11,"v":0.063},
{"t":"x = 0.74","k":"r","e":453.59,"v":0.922},{"t":"341.55 eV","k":"k","e":438.02,"v":0.615},{"t":"◂","k":"k","e":444.45,"v":0.615},
{"e":444.81,"f":444.81,"v":0.669,"w":0.552},{"e":444.6,"f":441.71,"v":0.615,"w":0.615}],
"d1g":[{"c":"g","e":116,"v":0.112},{"c":"g","e":111.78,"v":0.113},{"c":"g","e":110.76,"v":0.127},{"c":"g","e":109.94,"v":0.165},{"c":"g","e":109.33,"v":0.203},{"c":"g","e":108.72,"v":0.221},{"c":"g","e":108.11,"v":0.203},{"c":"g","e":107.5,"v":0.165},{"c":"g","e":106.68,"v":0.127},{"c":"g","e":105.66,"v":0.113},{"c":"g","e":97,"v":0.112},
{"c":"b","e":116,"v":0.112},{"c":"b","e":108.64,"v":0.114},{"c":"b","e":107.28,"v":0.14},{"c":"b","e":106.19,"v":0.211},{"c":"b","e":105.38,"v":0.282},{"c":"b","e":104.56,"v":0.316},{"c":"b","e":103.74,"v":0.282},{"c":"b","e":102.93,"v":0.211},{"c":"b","e":101.84,"v":0.14},{"c":"b","e":100.48,"v":0.114},{"c":"b","e":97,"v":0.112},
{"c":"r","e":116,"v":0.112},{"c":"r","e":104.69,"v":0.116},{"c":"r","e":104.06,"v":0.163},{"c":"r","e":103.56,"v":0.297},{"c":"r","e":103.18,"v":0.429},{"c":"r","e":102.8,"v":0.492},{"c":"r","e":102.42,"v":0.429},{"c":"r","e":102.04,"v":0.297},{"c":"r","e":101.54,"v":0.163},{"c":"r","e":100.91,"v":0.116},{"c":"r","e":97,"v":0.112},
{"c":"k","e":116,"v":0.112},{"c":"k","e":112.24,"v":0.118},{"c":"k","e":110.96,"v":0.145},{"c":"k","e":110.0,"v":0.19},{"c":"k","e":108.88,"v":0.221},{"c":"k","e":108.08,"v":0.214},{"c":"k","e":107.28,"v":0.208},{"c":"k","e":106.48,"v":0.244},{"c":"k","e":105.52,"v":0.289},{"c":"k","e":104.56,"v":0.335},{"c":"k","e":103.92,"v":0.398},{"c":"k","e":103.28,"v":0.542},{"c":"k","e":102.9,"v":0.597},{"c":"k","e":102.48,"v":0.552},{"c":"k","e":101.84,"v":0.38},{"c":"k","e":101.2,"v":0.199},{"c":"k","e":100.56,"v":0.118},{"c":"k","e":99.76,"v":0.112},{"c":"k","e":97,"v":0.112},
{"t":"▸","k":"k","e":103.2,"v":0.615},
{"e":112.94,"f":103.2,"v":0.615,"w":0.615},{"e":102.9,"f":102.9,"v":0.678,"w":0.542}],
"e0i":[{"e":456.9,"v":0.048},{"e":455,"v":0.048},{"e":453.93,"v":0.052},{"e":453.31,"v":0.077},{"e":452.88,"v":0.113},{"e":452.38,"v":0.137},{"e":451.88,"v":0.113},{"e":451.45,"v":0.077},{"e":450.83,"v":0.052},{"e":449,"v":0.048},{"e":447.5,"v":0.048},{"e":446.58,"v":0.054},{"e":445.93,"v":0.092},{"e":445.47,"v":0.147},{"e":444.95,"v":0.184},{"e":444.43,"v":0.147},{"e":443.97,"v":0.092},{"e":443.32,"v":0.054},{"e":441.5,"v":0.044},{"e":440.19,"v":0.043},
{"t":"x = 0.25","k":"r","e":453.65,"v":0.902},{"t":"SiO₂ on (InₓGa₁₋ₓ)₂O₃","k":"r","e":438.24,"v":0.885},{"t":"In 3d₅/₂","k":"k","e":444.46,"v":0.278},{"t":"341.90 eV","k":"k","e":437.76,"v":0.567},{"t":"◂","k":"k","e":444.62,"v":0.567},
{"e":444.95,"f":444.95,"v":0.598,"w":0.536},{"e":444.78,"f":441.35,"v":0.567,"w":0.567},{"e":456.9,"f":439,"v":1,"w":1}],
"e0g":[{"c":"g","e":116,"v":0.082},{"c":"g","e":112.31,"v":0.085},{"c":"g","e":111.16,"v":0.124},{"c":"g","e":110.24,"v":0.232},{"c":"g","e":109.55,"v":0.339},{"c":"g","e":108.86,"v":0.39},{"c":"g","e":108.17,"v":0.339},{"c":"g","e":107.48,"v":0.232},{"c":"g","e":106.56,"v":0.124},{"c":"g","e":105.41,"v":0.085},{"c":"g","e":96.9,"v":0.082},
{"c":"b","e":116,"v":0.082},{"c":"b","e":107.98,"v":0.088},{"c":"b","e":107.13,"v":0.161},{"c":"b","e":106.45,"v":0.368},{"c":"b","e":105.94,"v":0.573},{"c":"b","e":105.43,"v":0.67},{"c":"b","e":104.92,"v":0.573},{"c":"b","e":104.41,"v":0.368},{"c":"b","e":103.73,"v":0.161},{"c":"b","e":102.88,"v":0.088},{"c":"b","e":96.9,"v":0.082},
{"c":"r","e":116,"v":0.082},{"c":"r","e":104.97,"v":0.088},{"c":"r","e":104.36,"v":0.155},{"c":"r","e":103.87,"v":0.345},{"c":"r","e":103.51,"v":0.533},{"c":"r","e":103.14,"v":0.622},{"c":"r","e":102.77,"v":0.533},{"c":"r","e":102.41,"v":0.345},{"c":"r","e":101.92,"v":0.155},{"c":"r","e":101.31,"v":0.088},{"c":"r","e":96.9,"v":0.082},
{"c":"k","e":116,"v":0.082},{"c":"k","e":113.71,"v":0.086},{"c":"k","e":112.29,"v":0.12},{"c":"k","e":111.14,"v":0.206},{"c":"k","e":110.14,"v":0.344},{"c":"k","e":109.43,"v":0.421},{"c":"k","e":108.71,"v":0.438},{"c":"k","e":108.0,"v":0.421},{"c":"k","e":107.43,"v":0.43},{"c":"k","e":106.86,"v":0.533},{"c":"k","e":106.14,"v":0.687},{"c":"k","e":105.57,"v":0.742},{"c":"k","e":105.0,"v":0.704},{"c":"k","e":104.43,"v":0.627},{"c":"k","e":104.0,"v":0.662},{"c":"k","e":103.57,"v":0.667},{"c":"k","e":103.14,"v":0.63},{"c":"k","e":102.57,"v":0.41},{"c":"k","e":102.0,"v":0.19},{"c":"k","e":101.29,"v":0.096},{"c":"k","e":100.57,"v":0.082},{"c":"k","e":96.9,"v":0.082},
{"t":"Si 2p","k":"r","e":100.86,"v":0.687},{"t":"(e)","k":"k","e":97.86,"v":0.919},{"t":"▸","k":"k","e":103.5,"v":0.567},
{"e":112.57,"f":103.5,"v":0.567,"w":0.567},{"e":103.2,"f":103.2,"v":0.601,"w":0.533},{"e":116,"f":96.9,"v":1,"w":1}],
"e1i":[{"e":456.9,"v":0.061},{"e":455.3,"v":0.061},{"e":454.31,"v":0.066},{"e":453.69,"v":0.095},{"e":453.26,"v":0.136},{"e":452.76,"v":0.165},{"e":452.26,"v":0.136},{"e":451.83,"v":0.095},{"e":451.21,"v":0.066},{"e":449.5,"v":0.06},{"e":448,"v":0.059},{"e":447.28,"v":0.066},{"e":446.66,"v":0.109},{"e":446.23,"v":0.172},{"e":445.73,"v":0.214},{"e":445.23,"v":0.172},{"e":444.8,"v":0.109},{"e":444.18,"v":0.062},{"e":442.5,"v":0.053},{"e":441.22,"v":0.052},
{"t":"x = 0.42","k":"r","e":453.65,"v":0.93},{"t":"341.90 eV","k":"k","e":438.3,"v":0.565},{"t":"◂","k":"k","e":445.35,"v":0.565},
{"e":445.68,"f":445.68,"v":0.6,"w":0.534},{"e":445.5,"f":441.89,"v":0.565,"w":0.565}],
"e1g":[{"c":"g","e":116,"v":0.057},{"c":"g","e":112.63,"v":0.059},{"c":"g","e":111.42,"v":0.086},{"c":"g","e":110.45,"v":0.161},{"c":"g","e":109.73,"v":0.235},{"c":"g","e":109.0,"v":0.27},{"c":"g","e":108.27,"v":0.235},{"c":"g","e":107.55,"v":0.161},{"c":"g","e":106.58,"v":0.086},{"c":"g","e":105.37,"v":0.059},{"c":"g","e":96.9,"v":0.057},
{"c":"b","e":116,"v":0.057},{"c":"b","e":108.2,"v":0.061},{"c":"b","e":107.23,"v":0.105},{"c":"b","e":106.45,"v":0.23},{"c":"b","e":105.87,"v":0.353},{"c":"b","e":105.29,"v":0.412},{"c":"b","e":104.71,"v":0.353},{"c":"b","e":104.13,"v":0.23},{"c":"b","e":103.35,"v":0.105},{"c":"b","e":102.38,"v":0.061},{"c":"b","e":96.9,"v":0.057},
{"c":"r","e":116,"v":0.057},{"c":"r","e":105.09,"v":0.063},{"c":"r","e":104.46,"v":0.135},{"c":"r","e":103.96,"v":0.338},{"c":"r","e":103.58,"v":0.54},{"c":"r","e":103.2,"v":0.635},{"c":"r","e":102.82,"v":0.54},{"c":"r","e":102.44,"v":0.338},{"c":"r","e":101.94,"v":0.135},{"c":"r","e":101.31,"v":0.063},{"c":"r","e":96.9,"v":0.057},
{"c":"k","e":116,"v":0.064},{"c":"k","e":113.71,"v":0.082},{"c":"k","e":112.29,"v":0.122},{"c":"k","e":110.86,"v":0.209},{"c":"k","e":109.71,"v":0.27},{"c":"k","e":108.71,"v":0.296},{"c":"k","e":107.86,"v":0.304},{"c":"k","e":107.14,"v":0.339},{"c":"k","e":106.57,"v":0.443},{"c":"k","e":105.86,"v":0.499},{"c":"k","e":105.29,"v":0.487},{"c":"k","e":104.71,"v":0.513},{"c":"k","e":104.29,"v":0.609},{"c":"k","e":104.0,"v":0.68},{"c":"k","e":103.6,"v":0.69},{"c":"k","e":103.3,"v":0.655},{"c":"k","e":103.0,"v":0.585},{"c":"k","e":102.57,"v":0.42},{"c":"k","e":102.0,"v":0.165},{"c":"k","e":101.57,"v":0.082},{"c":"k","e":100.57,"v":0.064},{"c":"k","e":96.9,"v":0.062},
{"t":"▸","k":"k","e":103.67,"v":0.565},
{"e":113.0,"f":103.67,"v":0.565,"w":0.565},{"e":103.37,"f":103.37,"v":0.603,"w":0.53}],
"f0i":[{"e":457,"v":0.103},{"e":455.5,"v":0.103},{"e":454.6,"v":0.106},{"e":453.46,"v":0.12},{"e":452.83,"v":0.216},{"e":452.38,"v":0.375},{"e":451.88,"v":0.483},{"e":451.38,"v":0.375},{"e":450.93,"v":0.216},{"e":450.3,"v":0.091},{"e":449.5,"v":0.076},{"e":448,"v":0.074},{"e":446.8,"v":0.076},{"e":445.9,"v":0.1},{"e":445.25,"v":0.257},{"e":444.79,"v":0.493},{"e":444.27,"v":0.655},{"e":443.75,"v":0.493},{"e":443.29,"v":0.257},{"e":442.64,"v":0.081},{"e":441.5,"v":0.058},{"e":440.12,"v":0.055},
{"t":"x = 0.60","k":"r","e":453.64,"v":0.897},{"t":"SiO₂ on (InₓGa₁₋ₓ)₂O₃","k":"r","e":437.76,"v":0.879},{"t":"In 3d₅/₂","k":"k","e":443.8,"v":0.698},{"t":"341.65 eV","k":"k","e":437.94,"v":0.388},{"t":"◂","k":"k","e":443.95,"v":0.388},
{"e":444.27,"f":444.27,"v":0.448,"w":0.31},{"e":444.1,"f":441.7,"v":0.388,"w":0.388},{"e":457,"f":438.5,"v":1,"w":1}],
"f0g":[{"c":"g","e":116.5,"v":0.017},{"c":"g","e":112.51,"v":0.019},{"c":"g","e":111.38,"v":0.037},{"c":"g","e":110.48,"v":0.089},{"c":"g","e":109.8,"v":0.14},{"c":"g","e":109.12,"v":0.164},{"c":"g","e":108.44,"v":0.14},{"c":"g","e":107.76,"v":0.089},{"c":"g","e":106.86,"v":0.037},{"c":"g","e":105.73,"v":0.019},{"c":"g","e":97.7,"v":0.017},
{"c":"b","e":116.5,"v":0.017},{"c":"b","e":108.38,"v":0.02},{"c":"b","e":107.37,"v":0.051},{"c":"b","e":106.56,"v":0.139},{"c":"b","e":105.96,"v":0.226},{"c":"b","e":105.35,"v":0.267},{"c":"b","e":104.74,"v":0.226},{"c":"b","e":104.14,"v":0.139},{"c":"b","e":103.33,"v":0.051},{"c":"b","e":102.32,"v":0.02},{"c":"b","e":97.7,"v":0.017},
{"c":"r","e":116.5,"v":0.017},{"c":"r","e":105.48,"v":0.022},{"c":"r","e":104.83,"v":0.08},{"c":"r","e":104.31,"v":0.244},{"c":"r","e":103.92,"v":0.406},{"c":"r","e":103.53,"v":0.483},{"c":"r","e":103.14,"v":0.406},{"c":"r","e":102.75,"v":0.244},{"c":"r","e":102.23,"v":0.08},{"c":"r","e":101.58,"v":0.022},{"c":"r","e":97.7,"v":0.017},
{"c":"k","e":116.5,"v":0.026},{"c":"k","e":114.7,"v":0.04},{"c":"k","e":113.3,"v":0.06},{"c":"k","e":111.91,"v":0.095},{"c":"k","e":110.51,"v":0.138},{"c":"k","e":109.39,"v":0.167},{"c":"k","e":108.56,"v":0.178},{"c":"k","e":107.72,"v":0.198},{"c":"k","e":106.88,"v":0.25},{"c":"k","e":106.19,"v":0.31},{"c":"k","e":105.63,"v":0.328},{"c":"k","e":105.07,"v":0.353},{"c":"k","e":104.51,"v":0.422},{"c":"k","e":103.95,"v":0.509},{"c":"k","e":103.53,"v":0.522},{"c":"k","e":103.12,"v":0.491},{"c":"k","e":102.56,"v":0.319},{"c":"k","e":102.0,"v":0.129},{"c":"k","e":101.44,"v":0.034},{"c":"k","e":100.46,"v":0.008},{"c":"k","e":97.7,"v":0.008},
{"t":"Si 2p","k":"r","e":103.2,"v":0.595},{"t":"(f)","k":"k","e":98.4,"v":0.905},{"t":"▸","k":"k","e":103.78,"v":0.388},
{"e":113.58,"f":103.78,"v":0.388,"w":0.388},{"e":103.48,"f":103.48,"v":0.422,"w":0.302},{"e":116.5,"f":97.7,"v":1,"w":1}],
"f1i":[{"e":457,"v":0.103},{"e":455.3,"v":0.103},{"e":454.12,"v":0.116},{"e":453.51,"v":0.186},{"e":453.08,"v":0.303},{"e":452.59,"v":0.379},{"e":452.1,"v":0.303},{"e":451.67,"v":0.186},{"e":451.06,"v":0.094},{"e":449.5,"v":0.082},{"e":448,"v":0.081},{"e":446.87,"v":0.1},{"e":446.22,"v":0.215},{"e":445.76,"v":0.391},{"e":445.24,"v":0.517},{"e":444.72,"v":0.391},{"e":444.26,"v":0.215},{"e":443.61,"v":0.083},{"e":442.2,"v":0.066},{"e":440.72,"v":0.064},
{"t":"x = 0.74","k":"r","e":453.64,"v":0.905},{"t":"341.50 eV","k":"k","e":438.1,"v":0.353},{"t":"◂","k":"k","e":444.9,"v":0.353},
{"e":445.24,"f":445.24,"v":0.414,"w":0.293},{"e":445.05,"f":441.83,"v":0.353,"w":0.353}],
"f1g":[{"c":"b","e":116.5,"v":0.005},{"c":"b","e":112.39,"v":0.006},{"c":"b","e":111.39,"v":0.017},{"c":"b","e":110.59,"v":0.049},{"c":"b","e":109.99,"v":0.08},{"c":"b","e":109.39,"v":0.095},{"c":"b","e":108.79,"v":0.08},{"c":"b","e":108.19,"v":0.049},{"c":"b","e":107.39,"v":0.017},{"c":"b","e":106.39,"v":0.006},{"c":"b","e":97.7,"v":0.005},
{"c":"g","e":116.5,"v":0.005},{"c":"g","e":108.88,"v":0.007},{"c":"g","e":107.75,"v":0.025},{"c":"g","e":106.85,"v":0.078},{"c":"g","e":106.17,"v":0.13},{"c":"g","e":105.49,"v":0.155},{"c":"g","e":104.81,"v":0.13},{"c":"g","e":104.13,"v":0.078},{"c":"g","e":103.23,"v":0.025},{"c":"g","e":102.1,"v":0.007},{"c":"g","e":97.7,"v":0.005},
{"c":"r","e":116.5,"v":0.005},{"c":"r","e":105.34,"v":0.01},{"c":"r","e":104.72,"v":0.068},{"c":"r","e":104.22,"v":0.233},{"c":"r","e":103.85,"v":0.397},{"c":"r","e":103.48,"v":0.474},{"c":"r","e":103.11,"v":0.397},{"c":"r","e":102.74,"v":0.233},{"c":"r","e":102.24,"v":0.068},{"c":"r","e":101.62,"v":0.01},{"c":"r","e":97.7,"v":0.005},
{"c":"k","e":116.5,"v":0.069},{"c":"k","e":115.53,"v":0.06},{"c":"k","e":114.42,"v":0.052},{"c":"k","e":113.3,"v":0.06},{"c":"k","e":112.19,"v":0.078},{"c":"k","e":111.07,"v":0.103},{"c":"k","e":109.95,"v":0.121},{"c":"k","e":108.84,"v":0.138},{"c":"k","e":107.72,"v":0.155},{"c":"k","e":106.88,"v":0.172},{"c":"k","e":106.19,"v":0.198},{"c":"k","e":105.63,"v":0.229},{"c":"k","e":105.07,"v":0.259},{"c":"k","e":104.51,"v":0.319},{"c":"k","e":104.09,"v":0.422},{"c":"k","e":103.67,"v":0.543},{"c":"k","e":103.39,"v":0.552},{"c":"k","e":102.98,"v":0.466},{"c":"k","e":102.42,"v":0.267},{"c":"k","e":101.86,"v":0.112},{"c":"k","e":101.3,"v":0.034},{"c":"k","e":100.46,"v":0.017},{"c":"k","e":99.35,"v":0.012},{"c":"k","e":98.79,"v":0.026},{"c":"k","e":98.23,"v":0.012},{"c":"k","e":97.7,"v":0.015},
{"t":"▸","k":"k","e":103.78,"v":0.353},
{"e":113.72,"f":103.78,"v":0.353,"w":0.353},{"e":103.48,"f":103.48,"v":0.422,"w":0.276}]
},
"config":{
"font":"Liberation Sans",
"view":{"stroke":null},
"legend":{"disable":true},
"range":{"category":["#4a6cf0","#1f9b50","#161616","#e3222b"]},
"style":{"ln":{"interpolate":"monotone","strokeWidth":1.7}},
"axis":{"grid":false,"titleFontWeight":"normal","titleFontSize":29,"titleColor":"#111","labelFontSize":18,"labelColor":"#1a1a1a","domainColor":"#333","tickColor":"#333"},
"axisX":{"tickSize":4,"labelPadding":0,"labelFlush":false,"labelOverlap":false,"tickCount":9,"labelExpr":"datum.value % (datum.value > 300 ? 4 : 6) ? '' : datum.label"},
"axisY":{"ticks":false,"labels":false,"domainColor":"#8a8a8a"},
"title":{"fontSize":27,"fontWeight":"normal","color":"#111","anchor":"middle","offset":8},
"text":{"fontSize":19},
"rule":{"color":"#222","strokeWidth":1.2}
}
}
